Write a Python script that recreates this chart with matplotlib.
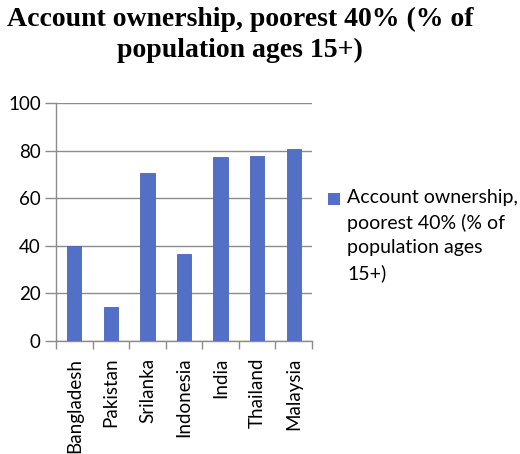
import matplotlib
matplotlib.use("Agg")
import matplotlib.pyplot as plt
from matplotlib.patches import Rectangle
import numpy as np

countries = ["Bangladesh", "Pakistan", "Srilanka", "Indonesia", "India", "Thailand", "Malaysia"]
values = [40.0, 14.1, 70.6, 36.5, 77.2, 77.7, 80.5]
series_name = "Account ownership,\npoorest 40% (% of\npopulation ages\n15+)"
title = "Account ownership, poorest 40% (% of\npopulation ages 15+)"

plt.rcParams['font.family'] = ['Lato', 'DejaVu Sans']
bar_color = "#5470c6"
grid_color = "#8c8c8c"

fig = plt.figure(figsize=(5.2, 4.54), dpi=100)
ax = fig.add_axes([0.1077, 0.249, 0.4923, 0.524])

x = np.arange(len(countries))
ax.bar(x, values, width=0.39, color=bar_color, edgecolor="#4a66bb", linewidth=0.6, zorder=3)

ax.set_xlim(-0.5, len(countries) - 0.5)
ax.set_ylim(0, 100)
ax.set_yticks(range(0, 101, 20))
ax.yaxis.grid(True, color=grid_color, linewidth=1.0, zorder=0)

ax.set_xticks(x)
ax.set_xticklabels(countries, rotation=90, fontsize=13.5)
ax.tick_params(axis='x', length=0, pad=12)
ax.set_xticks(np.arange(-0.5, len(countries)), minor=True)
ax.tick_params(axis='x', which='minor', length=6, color=grid_color, width=1.0)
ax.tick_params(axis='y', length=8, color=grid_color, width=1.0, labelsize=13.5, pad=3)

for s in ['top', 'right']:
    ax.spines[s].set_visible(False)
for s in ['left', 'bottom']:
    ax.spines[s].set_color(grid_color)
    ax.spines[s].set_linewidth(1.0)

fig.text(0.462, 0.984, title, ha='center', va='top', fontsize=20, fontweight='bold',
         family='Liberation Serif', linespacing=1.28)

# legend: marker aligned with the first line of the wrapped label
fig.patches.append(Rectangle((328 / 520, 1 - 205 / 454), 12 / 520, 12 / 454,
                             transform=fig.transFigure, facecolor=bar_color,
                             edgecolor="none", figure=fig))
fig.text(347 / 520, 1 - 189 / 454, series_name, ha='left', va='top', fontsize=14,
         linespacing=1.52)

fig.savefig("out.png", dpi=100)
